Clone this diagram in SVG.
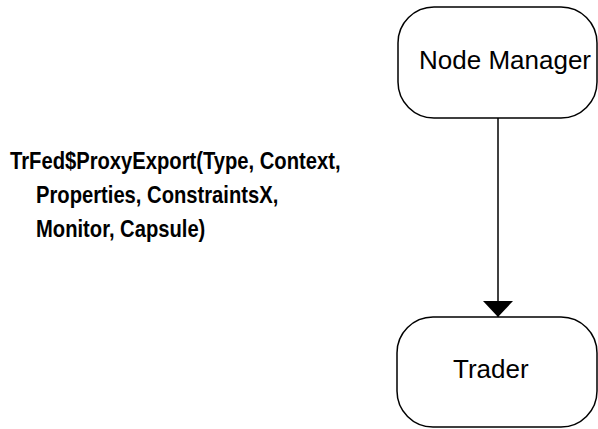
<svg xmlns="http://www.w3.org/2000/svg" width="598" height="429" viewBox="0 0 598 429">
  <defs>
    <style>
      .box { fill: #ffffff; stroke: #000000; stroke-width: 1.5; }
      .name { font-family: "Liberation Sans", Arial, sans-serif; font-size: 26px; fill: #000000; }
      .msg { font-family: "Liberation Sans", Arial, sans-serif; font-size: 20.2px; font-weight: bold; fill: #000000; }
      .wire { stroke: #000000; stroke-width: 1.5; fill: none; }
    </style>
    <marker id="arrow" viewBox="0 0 16 30" refX="16" refY="15" markerWidth="16" markerHeight="30" markerUnits="userSpaceOnUse" orient="auto-start-reverse">
      <path d="M0,0 L16,15 L0,30 Z" fill="#000000"/>
    </marker>
  </defs>
  <rect width="598" height="429" fill="#ffffff"/>

  <g id="connectors">
    <path class="wire" d="M498,118 L498,317" marker-end="url(#arrow)"/>
  </g>

  <g id="node-manager">
    <rect class="box" x="398" y="7" width="199" height="111" rx="36" ry="36"/>
    <text class="name" x="419" y="69">Node Manager</text>
  </g>

  <g id="trader">
    <rect class="box" x="397" y="317" width="200" height="110" rx="36" ry="36"/>
    <text class="name" x="453" y="378">Trader</text>
  </g>

  <!-- call label, drawn slightly tall -->
  <g id="message-label">
    <text class="msg" transform="translate(10,169) scale(1,1.18)">TrFed$ProxyExport(Type, Context,</text>
    <text class="msg" transform="translate(36,203) scale(1,1.18)">Properties, ConstraintsX,</text>
    <text class="msg" transform="translate(36,237) scale(1,1.18)">Monitor, Capsule)</text>
  </g>
</svg>
